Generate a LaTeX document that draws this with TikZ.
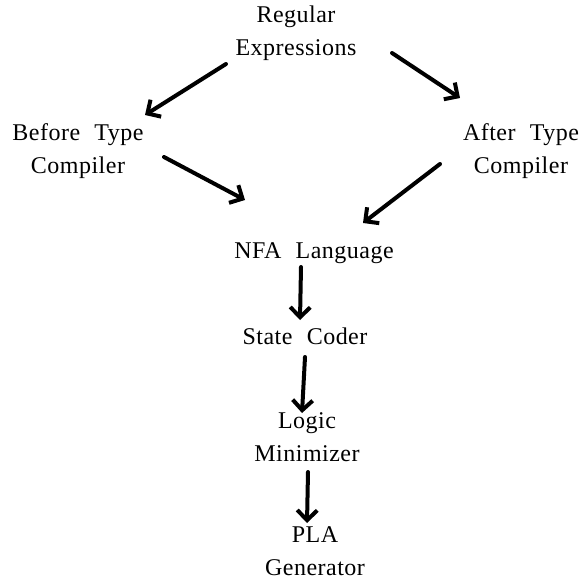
\documentclass[tikz,border=0pt]{standalone}
\usepackage{fontspec}
\setmainfont[LetterSpace=2, WordSpace=2.2]{Liberation Serif}
\usetikzlibrary{arrows.meta}

\begin{document}
\begin{tikzpicture}[x=1pt, y=-1pt,
    stage/.style={align=center, inner sep=0pt,
                  font=\fontsize{24}{33}\selectfont},
    flow/.style={line width=4pt, line cap=round,
                 -{Straight Barb[length=10pt,width=20pt,line width=4pt]}}]

  \useasboundingbox (0,0) rectangle (586,580);

  % the stages of the compiler
  \node[stage] (re)  at (296,33)  {Regular\\Expressions};
  \node[stage] (bt)  at (78,151)  {Before Type\\Compiler};
  \node[stage] (at)  at (521,151) {After Type\\Compiler};
  \node[stage] (nfa) at (314,253) {NFA Language};
  \node[stage] (sc)  at (305,336) {State Coder};
  \node[stage] (lm)  at (307,437) {Logic\\Minimizer};
  \node[stage] (pla) at (315,551) {PLA\\Generator};

  % hand drawn arrows between them
  \draw[flow] ([shift={(-70,31)}]re.center)  -- ([shift={(67,-36)}]bt.center);
  \draw[flow] ([shift={(96,20)}]re.center)   -- ([shift={(-61,-53)}]at.center);
  \draw[flow] ([shift={(86,6)}]bt.center)    -- ([shift={(-69,-53)}]nfa.center);
  \draw[flow] ([shift={(-81,13)}]at.center)  -- ([shift={(49,-30)}]nfa.center);
  \draw[flow] ([shift={(-13,14)}]nfa.center) -- ([shift={(-5,-16)}]sc.center);
  \draw[flow] ([shift={(0,21)}]sc.center)    -- ([shift={(-5,-24)}]lm.center);
  \draw[flow] ([shift={(1,35)}]lm.center)    -- ([shift={(-8,-28)}]pla.center);

\end{tikzpicture}
\end{document}
